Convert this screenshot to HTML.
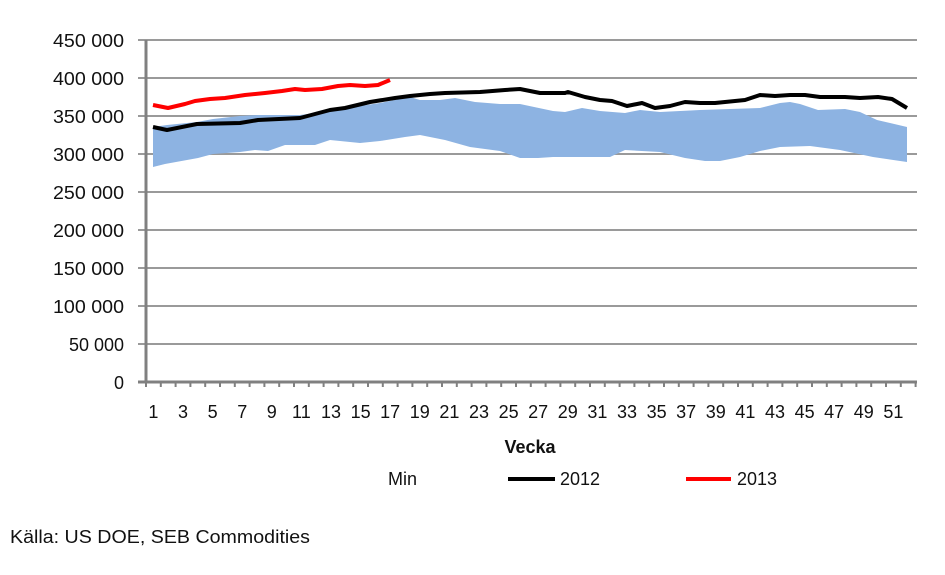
<!DOCTYPE html>
<html><head><meta charset="utf-8"><style>
body{margin:0;background:#fff;}
svg text{font-family:"Liberation Sans",sans-serif;fill:#111;}
</style></head><body>
<svg width="945" height="570" xmlns="http://www.w3.org/2000/svg">
<g stroke="#9a9a9a" stroke-width="2">
<line x1="138" y1="40" x2="917" y2="40"/>
<line x1="138" y1="78" x2="917" y2="78"/>
<line x1="138" y1="116" x2="917" y2="116"/>
<line x1="138" y1="154" x2="917" y2="154"/>
<line x1="138" y1="192" x2="917" y2="192"/>
<line x1="138" y1="230" x2="917" y2="230"/>
<line x1="138" y1="268" x2="917" y2="268"/>
<line x1="138" y1="306" x2="917" y2="306"/>
<line x1="138" y1="344" x2="917" y2="344"/>
</g>
<polygon fill="#8db3e2" points="153,127 167,125 197,122 213,119 240,116 258,115 300,115 330,111 360,106 380,103 395,100 410,97 420,100 440,100 455,98 475,102 500,104 520,104 553,111 565,112 582,108 600,111 625,113 640,110 660,112 700,110 760,108 780,103 790,102 800,104 818,110 845,109 860,112 877,120 907,127 907,162 873,157 840,150 810,146 780,147 760,151 740,157 720,161 705,161 685,158 660,152 625,150 610,157 580,157 553,157 538,158 520,158 500,151 470,147 445,140 420,135 405,137 380,141 360,143 330,140 315,145 285,145 268,151 255,150 240,152 213,154 198,158 165,164 153,167"/>
<g stroke="#808080" stroke-width="3" fill="none">
<line x1="146" y1="40" x2="146" y2="383"/>
<line x1="138" y1="382" x2="917" y2="382"/>
</g>
<g stroke="#808080" stroke-width="2" id="ticks"></g>
<polyline fill="none" stroke="#000" stroke-width="4" stroke-linejoin="round" points="153,127 167,130 197,124 240,123 258,120 300,118 330,110 345,108 370,102 395,98 410,96 430,94 445,93 480,92 505,90 520,89 540,93 565,93 568,92 585,97 600,100 612,101 627,106 642,103 655,108 670,106 685,102 700,103 715,103 745,100 760,95 775,96 790,95 805,95 820,97 845,97 860,98 878,97 892,99 907,108"/>
<polyline fill="none" stroke="#f00" stroke-width="4" stroke-linejoin="round" points="153,105 168,108 185,104 195,101 210,99 225,98 245,95 265,93 282,91 295,89 305,90 322,89 338,86 350,85 365,86 378,85 390,80"/>
<g font-size="18" text-anchor="end" lengthAdjust="spacingAndGlyphs">
<text x="124" y="47" textLength="71" lengthAdjust="spacingAndGlyphs">450 000</text><text x="124" y="85" textLength="71" lengthAdjust="spacingAndGlyphs">400 000</text><text x="124" y="123" textLength="71" lengthAdjust="spacingAndGlyphs">350 000</text>
<text x="124" y="161" textLength="71" lengthAdjust="spacingAndGlyphs">300 000</text><text x="124" y="199" textLength="71" lengthAdjust="spacingAndGlyphs">250 000</text><text x="124" y="237" textLength="71" lengthAdjust="spacingAndGlyphs">200 000</text>
<text x="124" y="275" textLength="71" lengthAdjust="spacingAndGlyphs">150 000</text><text x="124" y="313" textLength="71" lengthAdjust="spacingAndGlyphs">100 000</text><text x="124" y="351">50 000</text>
<text x="124" y="389">0</text>
</g>
<g font-size="18" text-anchor="middle" id="xl"></g>
<text x="530" y="453" font-size="18" font-weight="bold" text-anchor="middle">Vecka</text>
<text x="388" y="485" font-size="18">Min</text>
<line x1="508" y1="479" x2="555" y2="479" stroke="#000" stroke-width="4"/>
<text x="560" y="485" font-size="18">2012</text>
<line x1="686" y1="479" x2="731" y2="479" stroke="#f00" stroke-width="4"/>
<text x="737" y="485" font-size="18">2013</text>
<text x="10" y="543" font-size="18" textLength="300" lengthAdjust="spacingAndGlyphs">Källa: US DOE, SEB Commodities</text>
<script>
var t=document.getElementById('ticks'),xl=document.getElementById('xl'),ns='http://www.w3.org/2000/svg';
for(var i=0;i<=52;i++){var x=146+i*14.8;var l=document.createElementNS(ns,'line');l.setAttribute('x1',x);l.setAttribute('x2',x);l.setAttribute('y1',382);l.setAttribute('y2',387);t.appendChild(l);}
for(var w=1;w<=51;w+=2){var e=document.createElementNS(ns,'text');e.setAttribute('x',146+(w-0.5)*14.8);e.setAttribute('y',418);e.textContent=w;xl.appendChild(e);}
</script>
</svg>
</body></html>
